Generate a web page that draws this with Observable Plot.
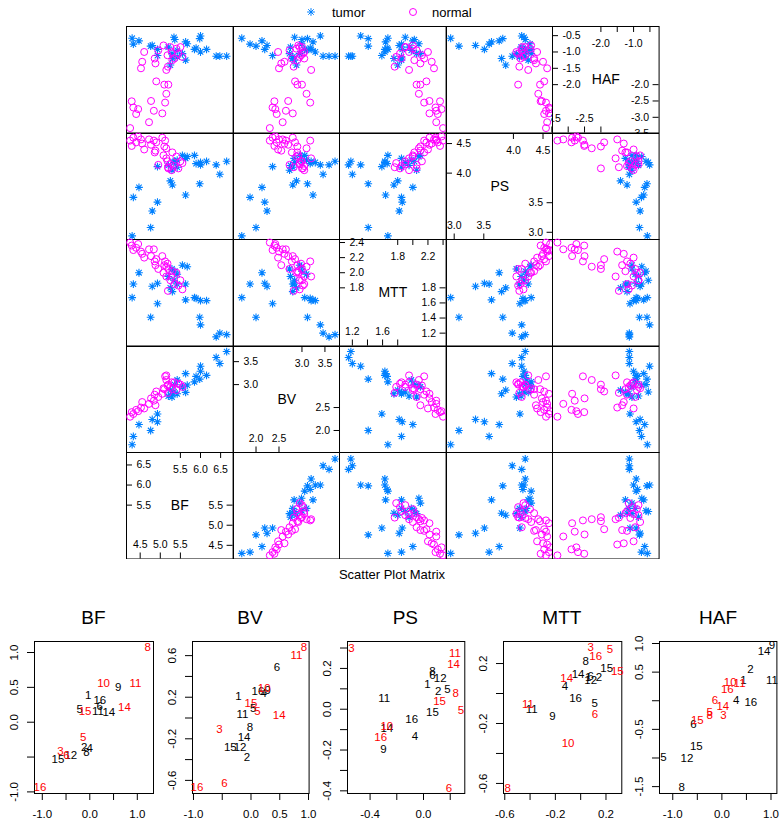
<!DOCTYPE html>
<html><head><meta charset="utf-8">
<script src="https://cdn.jsdelivr.net/npm/d3@7"></script>
<script src="https://cdn.jsdelivr.net/npm/@observablehq/plot@0.6"></script>
<style>
body{margin:0;background:#fff;font-family:"Liberation Sans",Arial,sans-serif;color:#000;}
#root{position:relative;width:784px;height:827px;overflow:hidden;background:#fff;}
</style></head><body><div id="root"></div>
<script>
// ---------- scatter plot matrix data ----------
const varNames = ["BF", "BV", "MTT", "PS", "HAF"];
const groupNames = ["tumor", "normal"];
const tumorBF  = [4.30,4.33,4.47,4.76,4.80,4.93,4.93,5.20,5.25,5.29,5.30,5.34,5.36,5.42,5.42,5.55,5.63,5.63,5.67,5.85,5.89,5.98,6.00,6.15,6.00,6.48,6.39,6.65];
const tumorBV  = [1.69,1.87,2.13,2.00,2.24,2.19,2.36,2.75,2.88,2.73,2.80,2.84,3.00,2.80,3.10,2.95,2.83,3.24,2.99,3.06,3.18,3.12,3.29,3.20,3.40,3.46,3.59,3.72];
const tumorMTT = [1.67,1.85,2.00,1.41,1.82,1.86,1.59,1.95,1.80,2.05,1.75,1.90,2.02,1.85,1.98,2.10,1.85,1.64,2.08,1.67,1.66,1.41,1.63,1.63,1.31,1.20,1.15,1.18];
const tumorPS  = [2.94,3.59,3.76,3.08,3.36,3.51,4.11,4.13,3.87,4.05,3.80,4.18,4.20,4.10,4.22,4.30,4.25,3.63,4.28,4.30,4.16,3.82,4.18,4.20,4.14,3.98,4.14,4.20];
const tumorHAF = [-0.58,-0.76,-0.66,-0.82,-0.80,-0.92,-1.11,-0.85,-1.40,-1.05,-1.20,-0.55,-0.62,-1.15,-0.95,-1.05,-1.25,-0.69,-0.75,-0.92,-0.88,-0.59,-1.00,-0.92,-0.51,-1.13,-1.13,-1.13];
const normalBF  = [4.25,4.29,4.33,4.40,4.45,4.52,4.55,4.60,4.72,4.77,4.84,4.86,4.88,4.90,4.95,5.05,5.08,5.10,5.12,5.15,5.15,5.18,5.19,5.20,5.25,5.30,5.35,5.40,5.45,5.50,5.55,5.28];
const normalBV  = [2.30,2.40,2.36,2.45,2.42,2.50,2.62,2.48,2.58,2.70,2.65,2.78,2.55,2.85,2.73,2.80,2.92,2.90,3.18,3.10,3.20,2.98,2.82,3.00,2.95,2.90,3.05,2.88,3.02,3.00,2.95,3.05];
const normalMTT = [2.40,2.36,2.30,2.33,2.38,2.28,2.25,2.20,2.31,2.22,2.31,2.15,2.10,2.18,2.05,2.22,2.00,2.10,2.15,2.08,1.95,2.12,1.76,2.05,1.90,2.02,1.85,2.00,1.83,1.90,1.78,1.95];
const normalPS  = [4.55,4.46,4.60,4.52,4.62,4.57,4.50,4.40,4.57,4.48,4.55,4.35,4.38,4.52,4.14,4.60,4.30,4.45,4.55,4.42,4.25,4.20,4.10,4.08,4.15,4.35,4.12,4.28,4.08,4.20,4.17,4.05];
const normalHAF = [-3.33,-2.51,-2.70,-2.90,-2.75,-1.50,-1.30,-1.00,-3.15,-2.50,-2.80,-1.20,-1.35,-1.90,-0.95,-2.88,-0.80,-2.00,-2.55,-2.28,-1.55,-1.10,-1.45,-2.00,-0.85,-1.25,-1.20,-0.90,-1.05,-0.85,-1.15,-1.00];
const varDomains = [[4.16,6.81],[1.51,3.83],[1.03,2.44],[2.87,4.67],[-3.48,-0.22]];
const lowTicks  = [[4.5,5.0,5.5],[2.0,2.5],[1.2,1.4,1.6,1.8],[3.0,3.5],[-3.5,-3.0,-2.5,-2.0]];
const highTicks = [[5.5,6.0,6.5],[3.0,3.5],[1.8,2.0,2.2,2.4],[4.0,4.5],[-2.0,-1.5,-1.0,-0.5]];
const bottomTickLabels = [[4.5,5.0,5.5],[2.0,2.5],[1.2,1.6],[3.0,3.5],[-3.5,-2.5]];
const topTickLabels    = [[5.5,6.0,6.5],[3.0,3.5],[1.8,2.2],[4.0,4.5],[-2.0,-1.0]];

// ---------- bottom panels data: [label, x, y] ----------
const bottomNames = ["BF", "BV", "PS", "MTT", "HAF"];
const bfBlack = [[9,0.60,0.50],[1,-0.035,0.38],[16,0.21,0.31],[6,0.21,0.23],[11,0.17,0.155],[14,0.40,0.14],[5,-0.21,0.18],[2,-0.12,-0.355],[4,0.0,-0.37],[8,-0.07,-0.43],[12,-0.40,-0.48],[15,-0.67,-0.53]];
const bfRed   = [[8,1.22,1.08],[10,0.29,0.56],[11,0.96,0.56],[14,0.73,0.21],[15,-0.10,0.16],[5,-0.14,-0.21],[3,-0.62,-0.42],[6,-0.49,-0.48],[16,-1.05,-0.94]];
const bvBlack = [[6,0.45,0.49],[16,0.12,0.26],[4,0.22,0.24],[9,0.29,0.27],[1,-0.22,0.21],[5,0.04,0.095],[11,-0.15,0.04],[8,-0.02,-0.085],[14,-0.12,-0.19],[15,-0.36,-0.28],[12,-0.19,-0.28],[2,-0.07,-0.38]];
const bvRed   = [[8,0.92,0.68],[11,0.79,0.60],[10,0.23,0.29],[15,0.0,0.14],[5,0.11,0.06],[14,0.49,0.03],[3,-0.55,-0.11],[6,-0.46,-0.63],[16,-0.94,-0.67]];
const psBlack = [[8,0.067,0.185],[6,0.067,0.164],[12,0.125,0.15],[1,0.03,0.12],[2,0.11,0.087],[5,0.18,0.10],[15,0.067,-0.017],[11,-0.295,0.054],[16,-0.088,-0.05],[14,-0.275,-0.093],[4,-0.065,-0.131],[9,-0.30,-0.197]];
const psRed   = [[3,-0.54,0.30],[11,0.235,0.275],[14,0.225,0.22],[8,0.24,0.077],[15,0.12,0.04],[5,0.28,-0.005],[10,-0.275,-0.082],[16,-0.32,-0.14],[6,0.19,-0.39]];
const mttBlack = [[8,0.04,0.218],[15,0.206,0.169],[14,-0.021,0.125],[6,0.079,0.118],[1,0.06,0.105],[2,0.145,0.111],[12,0.079,0.085],[4,-0.124,0.051],[16,-0.04,-0.031],[5,0.111,-0.067],[11,-0.388,-0.104],[9,-0.224,-0.155]];
const mttRed   = [[3,0.079,0.31],[5,0.232,0.296],[16,0.119,0.245],[15,0.29,0.147],[14,-0.111,0.102],[6,0.113,-0.138],[11,-0.417,-0.071],[10,-0.10,-0.333],[8,-0.576,-0.631]];
const hafBlack = [[9,1.02,0.96],[14,0.86,0.87],[2,0.58,0.55],[1,0.44,0.35],[11,1.02,0.36],[4,0.29,0.0],[16,0.59,-0.03],[6,-0.58,-0.41],[15,-0.52,-0.79],[12,-0.71,-1.0],[5,-1.19,-0.98],[8,-0.82,-1.52]];
const hafRed   = [[10,0.17,0.33],[11,0.36,0.30],[16,0.11,0.20],[6,-0.14,0.0],[14,0.02,-0.10],[5,-0.25,-0.2],[8,-0.25,-0.26],[3,0.03,-0.26],[15,-0.5,-0.35]];
const bottomXDomains = [[-1.164,1.341],[-1.017,1.01],[-0.569,0.309],[-0.61,0.325],[-1.27,1.12]];
const bottomYDomains = [[-1.023,1.158],[-0.726,0.736],[-0.413,0.332],[-0.667,0.347],[-1.62,1.035]];
const bottomXTicks = [[-1,-0.5,0,0.5,1],[-1,-0.5,0,0.5,1],[-0.4,-0.2,0,0.2],[-0.6,-0.4,-0.2,0,0.2],[-1,-0.5,0,0.5,1]];
const bottomXLabels = [[-1,0,1],[-1,0,0.5,1],[-0.4,0],[-0.6,-0.2,0.2],[-1,0,1]];
const bottomYTicks = [[-1,-0.5,0,0.5,1],[-0.6,-0.4,-0.2,0,0.2,0.4,0.6],[-0.4,-0.3,-0.2,-0.1,0,0.1,0.2,0.3],[-0.6,-0.4,-0.2,0,0.2],[-1.5,-1,-0.5,0,0.5,1]];
const bottomYLabels = [[-1,0,0.5,1],[-0.6,-0.2,0.2,0.6],[-0.4,-0.2,0,0.2],[-0.6,-0.2,0.2],[-1.5,-0.5,0.5,1]];
const bottomBlack = [bfBlack, bvBlack, psBlack, mttBlack, hafBlack];
const bottomRed = [bfRed, bvRed, psRed, mttRed, hafRed];

// ---------- layout & style ----------
const FONT = "Liberation Sans, Arial, Helvetica, sans-serif";
const tumorColor = "#0080ff", normalColor = "#ff00ff";
const PW = 106.6, PH = 106.5, PX0 = 126, PY0 = 26;
const boxLeft = [34, 191.7, 346.7, 502.7, 659.3];
const boxRight = [153, 308.3, 464, 621, 776.7];
const boxTop = 640.7, boxBottom = 792.7;

const fmt1 = d => (d < 0 ? "-" : "") + Math.abs(d).toFixed(1);
const star8 = {draw(ctx, size) {
  const r = Math.sqrt(size / Math.PI), d = r * Math.SQRT1_2;
  ctx.moveTo(-r, 0); ctx.lineTo(r, 0); ctx.moveTo(0, -r); ctx.lineTo(0, r);
  ctx.moveTo(-d, -d); ctx.lineTo(d, d); ctx.moveTo(-d, d); ctx.lineTo(d, -d);
}};

const tumor = tumorBF.map((_, i) => ({BF: tumorBF[i], BV: tumorBV[i], MTT: tumorMTT[i], PS: tumorPS[i], HAF: tumorHAF[i]}));
const normal = normalBF.map((_, i) => ({BF: normalBF[i], BV: normalBV[i], MTT: normalMTT[i], PS: normalPS[i], HAF: normalHAF[i]}));

const root = document.getElementById("root");
function place(node, left, top) {
  const wrap = document.createElement("div");
  wrap.style.cssText = `position:absolute;left:${left}px;top:${top}px;line-height:0;`;
  wrap.appendChild(node);
  root.appendChild(wrap);
}
function addText(txt, cx, cy, size) {
  const el = document.createElement("div");
  el.textContent = txt;
  el.style.cssText = `position:absolute;left:${cx}px;top:${cy}px;transform:translate(-50%,-50%);font-size:${size}px;white-space:nowrap;line-height:1;font-family:${FONT};`;
  root.appendChild(el);
}
const baseStyle = {fontFamily: FONT, background: "transparent", overflow: "hidden", maxWidth: "none", color: "#000"};

function pairPanel(xv, yv) {
  return Plot.plot({
    width: PW + 2, height: PH + 2, margin: 1,
    x: {domain: varDomains[xv], axis: null},
    y: {domain: varDomains[yv], axis: null},
    style: baseStyle,
    marks: [
      Plot.frame({stroke: "#000"}),
      Plot.dot(tumor, {x: varNames[xv], y: varNames[yv], symbol: star8, r: 3.9, stroke: tumorColor, fill: "none", strokeWidth: 1.1}),
      Plot.dot(normal, {x: varNames[xv], y: varNames[yv], symbol: "circle", r: 3.5, stroke: normalColor, fill: "none", strokeWidth: 1})
    ]
  });
}
function diagPanel(v) {
  const [lo, hi] = varDomains[v];
  return Plot.plot({
    width: PW + 2, height: PH + 2, margin: 1,
    x: {domain: [lo, hi], axis: null},
    y: {domain: [lo, hi], axis: null},
    style: {...baseStyle, fontSize: "10.5px"},
    marks: [
      Plot.frame({stroke: "#000"}),
      Plot.ruleY(highTicks[v], {y: d => d, x1: lo, x2: lo, insetRight: -6, stroke: "#000"}),
      Plot.text(highTicks[v], {y: d => d, x: lo, text: fmt1, textAnchor: "start", dx: 10, fill: "#000"}),
      Plot.ruleY(lowTicks[v], {y: d => d, x1: hi, x2: hi, insetLeft: -6, stroke: "#000"}),
      Plot.text(lowTicks[v], {y: d => d, x: hi, text: fmt1, textAnchor: "end", dx: -10, fill: "#000"}),
      Plot.ruleX(highTicks[v], {x: d => d, y1: hi, y2: hi, insetBottom: -6, stroke: "#000"}),
      Plot.text(topTickLabels[v], {x: d => d, y: hi, text: fmt1, dy: 17, fill: "#000"}),
      Plot.ruleX(lowTicks[v], {x: d => d, y1: lo, y2: lo, insetTop: -6, stroke: "#000"}),
      Plot.text(bottomTickLabels[v], {x: d => d, y: lo, text: fmt1, dy: -14, fill: "#000"}),
      Plot.text([varNames[v]], {frameAnchor: "middle", text: d => d, fontSize: 14, fill: "#000"})
    ]
  });
}

// splom panels
for (let t = 0; t < 5; t++) {
  const yv = 4 - t;
  for (let c = 0; c < 5; c++) {
    const node = (c === yv) ? diagPanel(c) : pairPanel(c, yv);
    place(node, PX0 + c * PW - 1, PY0 + t * PH - 1);
  }
}

// legend
{
  const leg = d3.create("svg").attr("width", 200).attr("height", 22)
    .style("font-family", FONT).style("font-size", "13px");
  leg.append("path").attr("d", d3.symbol(star8, Math.PI * 3.9 * 3.9)())
    .attr("transform", "translate(10,10)").attr("stroke", tumorColor).attr("fill", "none");
  leg.append("text").attr("x", 31).attr("y", 14.5).text(groupNames[0]);
  leg.append("circle").attr("cx", 112).attr("cy", 10).attr("r", 3.5)
    .attr("stroke", normalColor).attr("fill", "none");
  leg.append("text").attr("x", 131).attr("y", 14.5).text(groupNames[1]);
  place(leg.node(), 301, 2);
}
addText("Scatter Plot Matrix", 392, 574, 13);

// bottom panels
const inList = (list, d) => list.some(v => Math.abs(v - d) < 1e-9);
for (let k = 0; k < 5; k++) {
  const mL = 34, mR = 6, mT = 10, mB = 34;
  const w = boxRight[k] - boxLeft[k], h = boxBottom - boxTop;
  const plot = Plot.plot({
    width: w + mL + mR, height: h + mT + mB,
    marginLeft: mL, marginRight: mR, marginTop: mT, marginBottom: mB,
    x: {domain: bottomXDomains[k]},
    y: {domain: bottomYDomains[k]},
    style: {...baseStyle, overflow: "visible", fontSize: "11.5px"},
    marks: [
      Plot.frame({stroke: "#000"}),
      Plot.axisX({ticks: bottomXTicks[k], tickSize: 7, tickPadding: 9, label: null,
        tickFormat: d => inList(bottomXLabels[k], d) ? fmt1(d) : ""}),
      Plot.axisY({ticks: bottomYTicks[k], tickSize: 7, tickPadding: 10, tickRotate: -90, label: null,
        tickFormat: d => inList(bottomYLabels[k], d) ? fmt1(d) : ""}),
      Plot.text(bottomBlack[k], {x: d => d[1], y: d => d[2], text: d => String(d[0]), fill: "#000", fontSize: 11.5}),
      Plot.text(bottomRed[k], {x: d => d[1], y: d => d[2], text: d => String(d[0]), fill: "#ff0000", fontSize: 11.5})
    ]
  });
  place(plot, boxLeft[k] - mL, boxTop - mT);
  addText(bottomNames[k], (boxLeft[k] + boxRight[k]) / 2, 617, 19);
}
</script></body></html>
